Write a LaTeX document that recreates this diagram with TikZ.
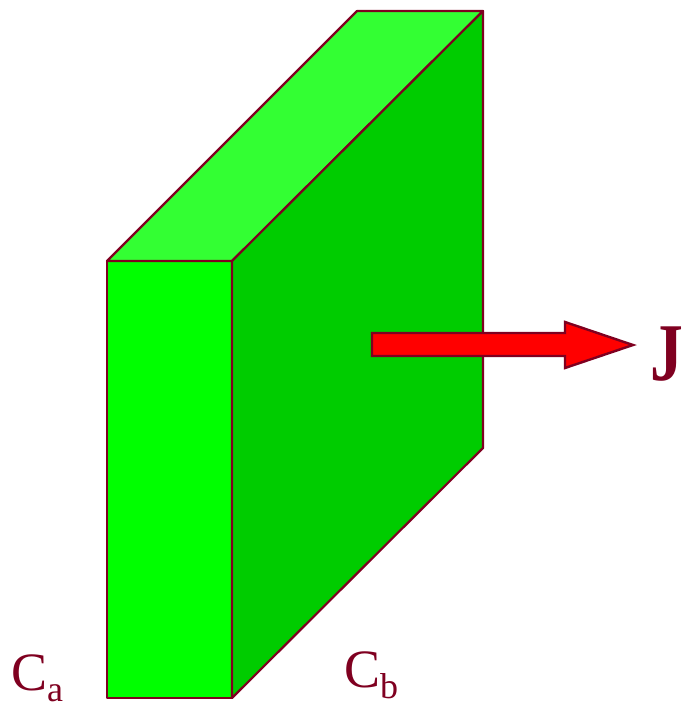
\documentclass[tikz,border=0pt]{standalone}
\usepackage{fontspec}
\setmainfont{Liberation Serif}
\definecolor{edge}{HTML}{7F0020}
\definecolor{front}{HTML}{00FF00}
\definecolor{topf}{HTML}{33FF33}
\definecolor{side}{HTML}{00CC00}
\definecolor{arrowred}{HTML}{FF0000}
\tikzset{
  face/.style={draw=edge,line width=2.2pt,line join=round},
  lbl/.style={text=edge,inner sep=0pt,anchor=base west,font=\fontsize{54}{54}\selectfont}
}
\newcommand{\subtxt}[1]{\raisebox{-11pt}{\fontsize{36}{36}\selectfont #1}}
\begin{document}
\begin{tikzpicture}[x=1pt,y=-1pt]
\useasboundingbox (0,0) rectangle (683,704);
\draw[face,fill=front] (107,261) rectangle (232,698);
\draw[face,fill=topf] (107,261) -- (357,11) -- (483,11) -- (232,261) -- cycle;
\draw[face,fill=side] (232,261) -- (483,11) -- (483,448) -- (232,698) -- cycle;
\draw[draw=edge,line width=2.4pt,fill=arrowred,line join=miter] (372,333) -- (565,333) -- (565,322) -- (633,345) -- (565,368) -- (565,356) -- (372,356) -- cycle;
\node[lbl,font=\fontsize{82}{82}\selectfont\bfseries] (j) at (650,380) {\scalebox{0.8}[1]{J}};
\node[lbl] (ca) at (11,690) {C\subtxt{a}};
\node[lbl] (cb) at (344,687) {C\subtxt{b}};
\end{tikzpicture}
\end{document}
